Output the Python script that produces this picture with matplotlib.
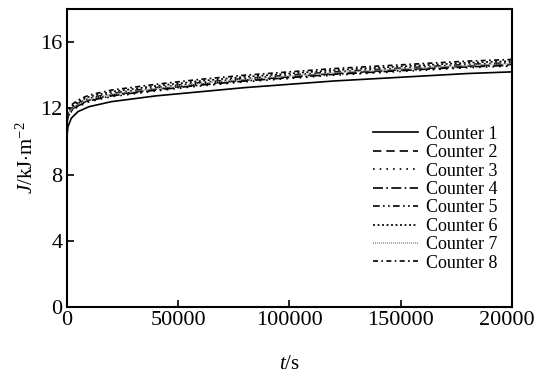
import numpy as np
import matplotlib
matplotlib.use("Agg")
from matplotlib import pyplot as plt

plt.rcParams['font.family'] = 'Liberation Serif'
plt.rcParams['mathtext.fontset'] = 'custom'
plt.rcParams['mathtext.rm'] = 'Liberation Serif'
plt.rcParams['mathtext.it'] = 'Liberation Serif:italic'

# time points (s)
t = [0, 500, 2000, 5000, 10000, 20000, 40000, 60000, 80000,
     100000, 120000, 140000, 160000, 180000, 200000]

# J (kJ/m^2) for each counter
c1 = [10.3, 10.9, 11.4, 11.8, 12.1, 12.4, 12.75, 13.0, 13.25, 13.45, 13.65, 13.8, 13.95, 14.1, 14.2]
c2 = [11.2, 11.6, 11.9, 12.2, 12.5, 12.8, 13.15, 13.45, 13.7, 13.9, 14.1, 14.25, 14.4, 14.55, 14.65]
c3 = [11.0, 11.5, 11.8, 12.1, 12.4, 12.7, 13.05, 13.35, 13.6, 13.8, 14.0, 14.15, 14.3, 14.45, 14.55]
c4 = [11.1, 11.5, 11.85, 12.15, 12.45, 12.75, 13.1, 13.4, 13.65, 13.85, 14.05, 14.2, 14.35, 14.5, 14.6]
c5 = [11.3, 11.7, 12.0, 12.3, 12.6, 12.9, 13.25, 13.55, 13.8, 14.0, 14.2, 14.35, 14.5, 14.65, 14.75]
c6 = [11.4, 11.8, 12.1, 12.4, 12.7, 13.0, 13.35, 13.65, 13.9, 14.1, 14.3, 14.45, 14.6, 14.75, 14.85]
c7 = [11.2, 11.6, 11.95, 12.25, 12.55, 12.85, 13.2, 13.5, 13.75, 13.95, 14.15, 14.3, 14.45, 14.6, 14.7]
c8 = [11.5, 11.9, 12.2, 12.5, 12.8, 13.1, 13.45, 13.75, 14.0, 14.2, 14.4, 14.55, 14.7, 14.85, 14.95]

labels = ['Counter %d' % i for i in range(1, 9)]
series = [c1, c2, c3, c4, c5, c6, c7, c8]
styles = ['-', (0, (5, 3)), (0, (1, 3)), (0, (6, 2, 1, 2)),
          (0, (4, 2, 1, 2, 1, 2)), (0, (1.2, 1.5)), (0, (0.6, 0.6)), (0, (3, 2, 1, 2))]
colors = ['black'] * 6 + ['#999999', 'black']

fig = plt.figure(figsize=(5.35, 3.73), dpi=100)
ax = fig.add_axes([0.125, 0.177, 0.832, 0.799])

for y, ls, c, lab in zip(series, styles, colors, labels):
    ax.plot(t, y, linestyle=ls, color=c, lw=1.2, label=lab)

ax.set_xlim(0, 200000)
ax.set_ylim(0, 18)
ax.set_xticks([0, 50000, 100000, 150000, 200000])
ax.set_yticks([0, 4, 8, 12, 16])
ax.tick_params(direction='in', length=5, width=1.2, labelsize=16, pad=3)
for s in ax.spines.values():
    s.set_linewidth(1.5)

ax.set_xlabel('$t$/s', fontsize=15, labelpad=18)
ax.set_ylabel('$J$/kJ$\\cdot$m$^{-2}$', fontsize=15, labelpad=2)

ax.legend(loc='lower right', frameon=False, fontsize=13, handlelength=2.5,
          labelspacing=0.08, handletextpad=0.4, borderaxespad=0.0,
          bbox_to_anchor=(0.983, 0.094))

fig.savefig('out.png', dpi=100)
